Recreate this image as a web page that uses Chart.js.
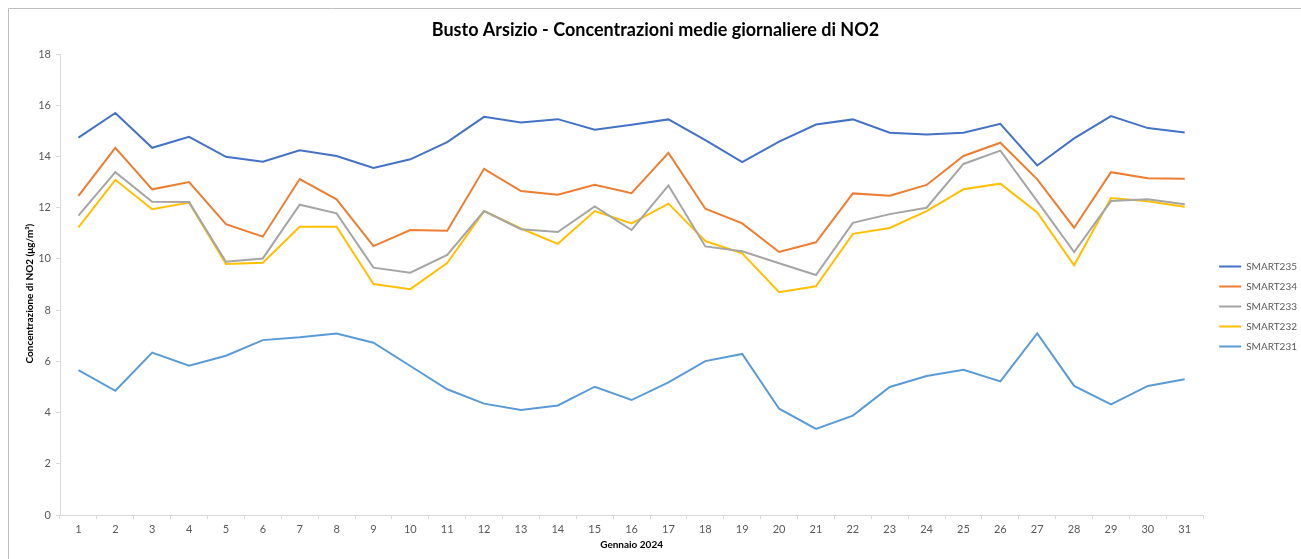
<!DOCTYPE html>
<html>
<head>
<meta charset="utf-8">
<script src="https://cdn.jsdelivr.net/npm/chart.js@4.4.1/dist/chart.umd.min.js"></script>
<style>
  html, body { margin: 0; padding: 0; background: #fff; }
  #wrap { position: relative; width: 1301px; height: 559px; }
</style>
</head>
<body>
<div id="wrap"><canvas id="c" width="1301" height="559"></canvas></div>
<script>
const days = ["1","2","3","4","5","6","7","8","9","10","11","12","13","14","15","16","17","18","19","20","21","22","23","24","25","26","27","28","29","30","31"];
const yTicks = [0, 2, 4, 6, 8, 10, 12, 14, 16, 18];

const smart235 = [14.74, 15.70, 14.34, 14.77, 13.99, 13.80, 14.24, 14.02, 13.55, 13.89, 14.56, 15.55, 15.33, 15.46, 15.05, 15.24, 15.45, 14.64, 13.78, 14.58, 15.25, 15.45, 14.93, 14.86, 14.93, 15.28, 13.65, 14.71, 15.58, 15.11, 14.94];
const smart234 = [12.46, 14.34, 12.72, 13.00, 11.36, 10.87, 13.12, 12.33, 10.50, 11.13, 11.10, 13.52, 12.65, 12.51, 12.90, 12.57, 14.14, 11.96, 11.39, 10.27, 10.65, 12.56, 12.47, 12.89, 14.02, 14.54, 13.11, 11.22, 13.39, 13.15, 13.13];
const smart233 = [11.69, 13.39, 12.23, 12.22, 9.89, 10.02, 12.12, 11.78, 9.66, 9.46, 10.16, 11.87, 11.16, 11.05, 12.05, 11.13, 12.87, 10.49, 10.30, 9.83, 9.37, 11.41, 11.75, 12.00, 13.71, 14.23, 12.26, 10.27, 12.26, 12.33, 12.14];
const smart232 = [11.23, 13.09, 11.94, 12.20, 9.80, 9.85, 11.26, 11.26, 9.02, 8.82, 9.84, 11.87, 11.19, 10.59, 11.87, 11.39, 12.16, 10.70, 10.22, 8.70, 8.93, 10.98, 11.21, 11.87, 12.72, 12.94, 11.82, 9.75, 12.38, 12.25, 12.04];
const smart231 = [5.66, 4.85, 6.34, 5.83, 6.22, 6.83, 6.94, 7.09, 6.73, 5.82, 4.91, 4.35, 4.10, 4.28, 5.01, 4.49, 5.18, 6.01, 6.29, 4.15, 3.36, 3.88, 5.00, 5.43, 5.67, 5.22, 7.09, 5.04, 4.32, 5.04, 5.30];

const seriesNames = ["SMART235", "SMART234", "SMART233", "SMART232", "SMART231"];
const seriesData = [smart235, smart234, smart233, smart232, smart231];
const seriesColors = ["#4472C4", "#ED7D31", "#A5A5A5", "#FFC000", "#5B9BD5"];

const FONT = "Lato, 'Open Sans', sans-serif";

const frame = {
  id: 'frame',
  beforeDraw(chart) {
    const ctx = chart.ctx;
    ctx.save();
    ctx.fillStyle = '#ffffff';
    ctx.fillRect(0, 0, chart.width, chart.height);
    ctx.strokeStyle = '#bfbfbf';
    ctx.lineWidth = 1;
    ctx.beginPath();
    ctx.moveTo(8.5, chart.height);
    ctx.lineTo(8.5, 8.5);
    ctx.lineTo(chart.width, 8.5);
    ctx.stroke();
    ctx.restore();
  }
};

const layoutTweaks = {
  id: 'layoutTweaks',
  afterLayout(chart) {
    const lg = chart.legend;
    if (lg) {
      lg.top += 29; lg.bottom += 29;
      lg.left += 6; lg.right += 6;
    }
    const ys = chart.scales.y;
    if (ys && !ys._titleShifted) {
      const orig = ys.drawTitle;
      ys.drawTitle = function () {
        this.ctx.save();
        this.ctx.translate(0, 9);
        orig.apply(this, arguments);
        this.ctx.restore();
      };
      ys._titleShifted = true;
    }
  }
};

new Chart(document.getElementById('c'), {
  type: 'line',
  data: {
    labels: days,
    datasets: seriesNames.map((n, i) => ({
      label: n,
      data: seriesData[i],
      borderColor: seriesColors[i],
      backgroundColor: seriesColors[i],
      borderWidth: 2,
      pointRadius: 0,
      pointHoverRadius: 0,
      tension: 0,
      fill: false
    }))
  },
  options: {
    responsive: false,
    animation: false,
    events: [],
    layout: { padding: { left: 10, right: 0, top: 0, bottom: 4 } },
    plugins: {
      title: {
        display: true,
        text: 'Busto Arsizio - Concentrazioni medie giornaliere di NO2',
        color: '#000000',
        font: { family: FONT, size: 18, weight: 'bold' },
        padding: { top: 19, bottom: 13.5 }
      },
      legend: {
        position: 'right',
        labels: {
          boxWidth: 22,
          boxHeight: 2,
          color: '#595959',
          font: { family: FONT, size: 10 },
          padding: 10,
          generateLabels(chart) {
            const items = Chart.defaults.plugins.legend.labels.generateLabels(chart);
            return items.map(it => Object.assign(it, { lineWidth: 0, fillStyle: it.strokeStyle }));
          }
        }
      },
      tooltip: { enabled: false }
    },
    scales: {
      x: {
        offset: true,
        grid: { offset: true, drawOnChartArea: false, drawTicks: true, tickLength: 4, color: '#d9d9d9' },
        border: { display: true, color: '#d9d9d9', width: 1 },
        ticks: { color: '#595959', font: { family: FONT, size: 11 }, padding: 4, maxRotation: 0, autoSkip: false },
        title: { display: true, text: 'Gennaio 2024', color: '#000000', font: { family: FONT, size: 10, weight: 'bold' }, padding: { top: 2, bottom: 4 } },
        afterFit(scale) { scale.height = 40; }
      },
      y: {
        min: 0,
        max: 18,
        afterBuildTicks(scale) { scale.ticks = yTicks.map(v => ({ value: v })); },
        grid: { drawOnChartArea: false, drawTicks: true, tickLength: 4, color: '#d9d9d9' },
        border: { display: true, color: '#d9d9d9', width: 1 },
        ticks: { color: '#595959', font: { family: FONT, size: 11 }, padding: 5 },
        title: { display: true, text: 'Concentrazione di NO2 (μg/m³)', color: '#000000', font: { family: FONT, size: 10, weight: 'bold' }, padding: { top: 14, bottom: 4 } },
        afterFit(scale) { scale.width = 50; }
      }
    }
  },
  plugins: [frame, layoutTweaks]
});
</script>
</body>
</html>
